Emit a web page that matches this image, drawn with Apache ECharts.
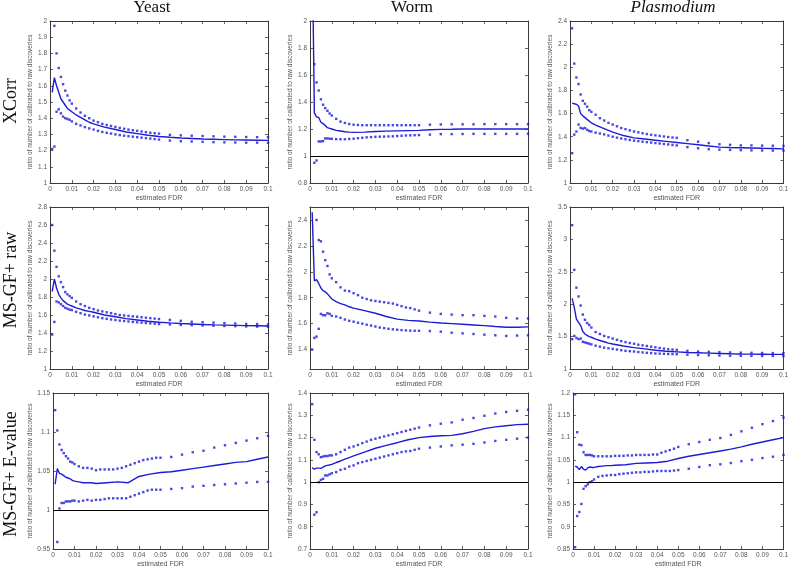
<!DOCTYPE html>
<html><head><meta charset="utf-8">
<script src="https://cdn.jsdelivr.net/npm/echarts@6/dist/echarts.min.js"></script>
<style>html,body{margin:0;padding:0;background:#fff}#c{width:791px;height:569px}</style>
</head><body><div id="c"></div>
<script>
// ---------- data ----------
const COL_TITLES = ['Yeast', 'Worm', 'Plasmodium'];
const ROW_TITLES = ['XCorr', 'MS-GF+ raw', 'MS-GF+ E-value'];
const X_NAME = 'estimated FDR';
const Y_NAME = 'ratio of number of calibrated to raw discoveries';

const X_TICKS = [0,0.01,0.02,0.03,0.04,0.05,0.06,0.07,0.08,0.09,0.1];
const X_LABELS = ['0','0.01','0.02','0.03','0.04','0.05','0.06','0.07','0.08','0.09','0.1'];

const DOT_X = [0.001,0.002,0.003,0.004,0.005,0.006,0.007,0.008,0.009,0.010,
  0.012,0.014,0.016,0.018,0.020,0.022,0.024,0.026,0.028,0.030,0.032,0.034,0.036,0.038,0.040,0.042,0.044,0.046,0.048,0.050,
  0.055,0.060,0.065,0.070,0.075,0.080,0.085,0.090,0.095,0.100];
const LINE_X = [0.001,0.002,0.003,0.004,0.005,0.006,0.007,0.008,0.009,0.010,
  0.012,0.014,0.016,0.018,0.020,
  0.025,0.030,0.035,0.040,0.045,0.050,0.055,0.060,0.065,0.070,0.075,0.080,0.085,0.090,0.095,0.100];

// Yeast / XCorr
const YX_Y_TICKS = [1,1.1,1.2,1.3,1.4,1.5,1.6,1.7,1.8,1.9,2];
const YX_MID = [1.56,1.65,1.60,1.56,1.52,1.50,1.48,1.46,1.45,1.44, 1.42,1.405,1.39,1.375,1.365, 1.345,1.33,1.315,1.305,1.295,1.287,1.282,1.278,1.275,1.272,1.27,1.268,1.266,1.265,1.264,1.263];
const YX_UP = [null,1.97,1.80,1.71,1.655,1.61,1.57,1.54,1.51,1.49, 1.46,1.435,1.415,1.40,1.385,1.375,1.365,1.358,1.352,1.346,1.34,1.335,1.33,1.326,1.322,1.318,1.314,1.31,1.307,1.305, 1.297,1.294,1.292,1.29,1.288,1.286,1.285,1.284,1.283,1.283];
const YX_LO = [1.21,1.225,1.44,1.455,1.43,1.41,1.40,1.395,1.39,1.38, 1.365,1.355,1.345,1.337,1.33,1.322,1.315,1.31,1.305,1.30,1.296,1.292,1.289,1.286,1.283,1.28,1.277,1.274,1.271,1.268, 1.262,1.258,1.256,1.254,1.252,1.251,1.25,1.249,1.249,1.248];

// Worm / XCorr
const WX_Y_TICKS = [0.8,1,1.2,1.4,1.6,1.8,2];
const WX_MID = [2.6,1.32,1.29,1.285,1.25,1.24,1.225,1.21,1.205,1.20, 1.19,1.185,1.18,1.177,1.175, 1.177,1.182,1.184,1.186,1.188,1.19,1.194,1.197,1.198,1.2,1.2,1.2,1.2,1.2,1.2,1.2];
const WX_UP = [null,1.68,1.545,1.485,1.42,1.38,1.355,1.335,1.315,1.30, 1.275,1.255,1.245,1.237,1.232,1.23,1.228,1.228,1.228,1.228,1.228,1.228,1.228,1.228,1.228,1.228,1.228,1.228,1.228,1.228, 1.232,1.234,1.235,1.235,1.235,1.236,1.236,1.236,1.236,1.236];
const WX_LO = [null,0.95,0.967,1.108,1.108,1.11,1.13,1.13,1.128,1.127, 1.125,1.124,1.124,1.126,1.128,1.132,1.135,1.138,1.14,1.142,1.143,1.144,1.145,1.146,1.148,1.15,1.152,1.153,1.154,1.155, 1.158,1.162,1.162,1.163,1.164,1.164,1.164,1.164,1.164,1.165];

// Plasmodium / XCorr
const PX_Y_TICKS = [1,1.2,1.4,1.6,1.8,2,2.2,2.4];
const PX_MID = [1.69,1.685,1.68,1.665,1.60,1.58,1.565,1.55,1.535,1.52, 1.50,1.485,1.47,1.455,1.44, 1.41,1.39,1.38,1.37,1.36,1.35,1.34,1.33,1.32,1.31,1.307,1.305,1.303,1.30,1.298,1.295];
const PX_UP = [2.337,2.032,1.912,1.855,1.765,1.71,1.685,1.66,1.63,1.615, 1.59,1.56,1.54,1.52,1.505,1.49,1.475,1.465,1.455,1.445,1.438,1.43,1.423,1.417,1.412,1.407,1.402,1.397,1.393,1.39, 1.37,1.357,1.345,1.335,1.33,1.325,1.325,1.323,1.322,1.32];
const PX_LO = [1.258,1.418,1.445,1.505,1.476,1.47,1.475,1.46,1.45,1.445, 1.435,1.428,1.42,1.41,1.40,1.392,1.385,1.378,1.372,1.366,1.362,1.357,1.353,1.349,1.345,1.341,1.337,1.333,1.329,1.325, 1.31,1.30,1.292,1.288,1.286,1.284,1.282,1.281,1.28,1.28];

// Yeast / MS-GF+ raw
const YR_Y_TICKS = [1,1.2,1.4,1.6,1.8,2,2.2,2.4,2.6,2.8];
const YR_MID = [1.86,2.00,1.90,1.83,1.79,1.76,1.74,1.72,1.71,1.70, 1.68,1.665,1.65,1.64,1.63, 1.60,1.58,1.56,1.545,1.53,1.52,1.512,1.505,1.50,1.495,1.49,1.488,1.485,1.482,1.48,1.478];
const YR_UP = [2.60,2.315,2.135,2.03,1.965,1.91,1.855,1.83,1.81,1.79, 1.75,1.72,1.70,1.68,1.665,1.65,1.64,1.63,1.62,1.61,1.60,1.595,1.59,1.585,1.58,1.575,1.57,1.565,1.56,1.555, 1.545,1.535,1.525,1.52,1.515,1.51,1.505,1.50,1.50,1.495];
const YR_LO = [1.383,1.523,1.75,1.74,1.72,1.70,1.68,1.67,1.66,1.655, 1.635,1.62,1.605,1.595,1.585,1.575,1.565,1.557,1.55,1.544,1.538,1.533,1.528,1.523,1.519,1.515,1.511,1.507,1.503,1.50, 1.495,1.49,1.487,1.484,1.481,1.478,1.476,1.473,1.471,1.468];

// Worm / MS-GF+ raw
const WR_Y_TICKS = [1.4,1.6,1.8,2,2.2,2.4];
const WR_MID = [2.46,1.93,1.94,1.91,1.875,1.855,1.845,1.83,1.81,1.79, 1.77,1.755,1.745,1.73,1.72, 1.70,1.68,1.655,1.635,1.625,1.62,1.612,1.605,1.60,1.595,1.59,1.585,1.578,1.572,1.572,1.575];
const WR_UP = [null,null,2.40,2.245,2.235,2.155,2.09,2.045,1.98,1.95, 1.92,1.88,1.855,1.85,1.835,1.82,1.80,1.79,1.78,1.775,1.77,1.765,1.76,1.755,1.745,1.735,1.725,1.72,1.71,1.70, 1.685,1.675,1.67,1.665,1.665,1.66,1.655,1.645,1.64,1.64];
const WR_LO = [1.40,1.49,1.50,1.56,1.675,1.665,1.665,1.68,1.675,1.66, 1.655,1.645,1.632,1.622,1.615,1.607,1.60,1.592,1.585,1.578,1.57,1.565,1.56,1.556,1.553,1.55,1.548,1.546,1.545,1.545, 1.543,1.538,1.53,1.525,1.52,1.515,1.51,1.505,1.508,1.51];

// Plasmodium / MS-GF+ raw
const PR_Y_TICKS = [1,1.5,2,2.5,3,3.5];
const PR_MID = [2.09,1.95,1.77,1.72,1.67,1.58,1.54,1.52,1.50,1.49, 1.46,1.44,1.42,1.40,1.385, 1.355,1.33,1.31,1.29,1.275,1.265,1.255,1.25,1.245,1.24,1.235,1.232,1.23,1.228,1.226,1.225];
const PR_UP = [3.22,2.53,2.255,2.12,1.98,1.84,1.76,1.71,1.68,1.64, 1.57,1.54,1.51,1.49,1.47,1.45,1.43,1.415,1.40,1.39,1.375,1.365,1.355,1.345,1.335,1.325,1.315,1.305,1.30,1.295, 1.28,1.27,1.265,1.26,1.255,1.252,1.25,1.248,1.246,1.245];
const PR_LO = [1.46,1.51,1.48,1.46,1.47,1.42,1.41,1.40,1.39,1.38, 1.36,1.345,1.33,1.32,1.31,1.30,1.29,1.28,1.275,1.27,1.262,1.256,1.25,1.245,1.24,1.237,1.234,1.232,1.23,1.228, 1.22,1.215,1.212,1.208,1.205,1.203,1.202,1.201,1.20,1.20];

// Yeast / MS-GF+ E-value
const YE_Y_TICKS = [0.95,1,1.05,1.1,1.15];
const YE_MID = [1.033,1.053,1.047,1.046,1.044,1.042,1.041,1.040,1.038,1.037, 1.036,1.035,1.035,1.035,1.034, 1.035,1.036,1.035,1.043,1.046,1.048,1.049,1.051,1.053,1.055,1.057,1.059,1.061,1.062,1.065,1.068];
const YE_UP = [1.128,1.102,1.084,1.077,1.073,1.069,1.066,1.062,1.061,1.059, 1.056,1.054,1.054,1.053,1.051,1.052,1.052,1.052,1.052,1.053,1.054,1.056,1.058,1.06,1.062,1.064,1.065,1.066,1.067,1.067, 1.068,1.071,1.074,1.076,1.080,1.083,1.086,1.089,1.092,1.095];
const YE_LO = [null,0.959,1.002,1.009,1.009,1.011,1.011,1.011,1.012,1.012, 1.011,1.012,1.013,1.012,1.013,1.013,1.014,1.015,1.015,1.015,1.015,1.015,1.017,1.019,1.021,1.023,1.025,1.026,1.026,1.026, 1.027,1.028,1.030,1.031,1.032,1.033,1.034,1.035,1.036,1.036];

// Worm / MS-GF+ E-value
const WE_Y_TICKS = [0.7,0.8,0.9,1,1.1,1.2,1.3,1.4];
const WE_MID = [1.065,1.058,1.063,1.063,1.062,1.067,1.073,1.075,1.077,1.08, 1.088,1.095,1.103,1.11,1.118, 1.135,1.152,1.165,1.177,1.19,1.20,1.205,1.208,1.21,1.217,1.228,1.24,1.248,1.253,1.258,1.26];
const WE_UP = [1.35,1.19,1.135,1.125,1.112,1.115,1.117,1.117,1.12,1.12, 1.125,1.135,1.145,1.155,1.16,1.167,1.175,1.182,1.19,1.195,1.20,1.205,1.21,1.215,1.22,1.225,1.23,1.235,1.24,1.245, 1.255,1.262,1.268,1.28,1.288,1.298,1.308,1.315,1.32,1.325];
const WE_LO = [null,0.854,0.865,1.00,1.01,1.015,1.03,1.03,1.035,1.04, 1.045,1.055,1.06,1.07,1.075,1.085,1.09,1.095,1.10,1.105,1.11,1.115,1.12,1.125,1.13,1.135,1.138,1.14,1.145,1.15, 1.155,1.16,1.165,1.168,1.172,1.178,1.185,1.19,1.195,1.20];

// Plasmodium / MS-GF+ E-value
const PE_Y_TICKS = [0.85,0.9,0.95,1,1.05,1.1,1.15,1.2];
const PE_MID = [1.036,1.034,1.028,1.035,1.029,1.027,1.032,1.034,1.033,1.033, 1.035,1.036,1.037,1.037,1.038, 1.039,1.042,1.043,1.044,1.047,1.053,1.058,1.062,1.066,1.07,1.074,1.079,1.085,1.09,1.095,1.10];
const PE_UP = [1.197,1.112,1.084,1.083,1.067,1.061,1.061,1.061,1.060,1.058, 1.058,1.058,1.058,1.058,1.059,1.059,1.059,1.060,1.060,1.061,1.061,1.061,1.061,1.062,1.062,1.066,1.069,1.072,1.075,1.079, 1.085,1.09,1.095,1.099,1.106,1.114,1.122,1.13,1.137,1.145];
const PE_LO = [0.854,0.924,0.933,0.951,0.985,0.991,0.995,1.0,1.002,1.006, 1.012,1.014,1.015,1.016,1.016,1.018,1.019,1.020,1.021,1.022,1.022,1.023,1.023,1.024,1.025,1.025,1.025,1.025,1.026,1.027, 1.030,1.034,1.038,1.040,1.043,1.047,1.050,1.054,1.057,1.061];

// ---------- layout / styling ----------
const PANELS = [
  {mid:YX_MID, up:YX_UP, lo:YX_LO, ymin:1,    ymax:2,    ticks:YX_Y_TICKS},
  {mid:WX_MID, up:WX_UP, lo:WX_LO, ymin:0.8,  ymax:2,    ticks:WX_Y_TICKS},
  {mid:PX_MID, up:PX_UP, lo:PX_LO, ymin:1,    ymax:2.4,  ticks:PX_Y_TICKS},
  {mid:YR_MID, up:YR_UP, lo:YR_LO, ymin:1,    ymax:2.8,  ticks:YR_Y_TICKS},
  {mid:WR_MID, up:WR_UP, lo:WR_LO, ymin:1.25, ymax:2.5,  ticks:WR_Y_TICKS},
  {mid:PR_MID, up:PR_UP, lo:PR_LO, ymin:1,    ymax:3.5,  ticks:PR_Y_TICKS},
  {mid:YE_MID, up:YE_UP, lo:YE_LO, ymin:0.95, ymax:1.15, ticks:YE_Y_TICKS},
  {mid:WE_MID, up:WE_UP, lo:WE_LO, ymin:0.7,  ymax:1.4,  ticks:WE_Y_TICKS},
  {mid:PE_MID, up:PE_UP, lo:PE_LO, ymin:0.85, ymax:1.2,  ticks:PE_Y_TICKS}
];
const GRID_BOX = [
  [50,21,218,162],[310,21,218,162],[570,21,218,162],
  [50,207,218,162],[310,207,218,162],[570,207,218,162],
  [53,393,215,162],[310,393,218,162],[573,393,215,162]
];
const BLUE = '#1c1cd8';
const AXIS_C = '#3a3a3a';
const LABEL_C = '#555';
const SANS = 'Liberation Sans';
const SERIF = 'Liberation Serif';

const grids = [], xAxes = [], yAxes = [], series = [];
PANELS.forEach((p, i) => {
  const [l, t, w, h] = GRID_BOX[i];
  grids.push({left:l, top:t, width:w, height:h, containLabel:false});
  const tickBase = {show:true, inside:true, length:3, lineStyle:{color:AXIS_C, width:0.8}};
  xAxes.push({
    type:'value', gridIndex:i, position:'bottom', min:0, max:0.1,
    axisLine:{show:true, onZero:false, lineStyle:{color:AXIS_C, width:1}},
    axisTick:Object.assign({customValues:X_TICKS}, tickBase),
    axisLabel:{customValues:X_TICKS, formatter:v => X_LABELS[X_TICKS.findIndex(a => Math.abs(a - v) < 1e-9)] ?? String(v),
      fontSize:6.5, color:LABEL_C, margin:3, fontFamily:SANS},
    splitLine:{show:false},
    name:X_NAME, nameLocation:'middle', nameGap:12,
    nameTextStyle:{fontSize:7, color:LABEL_C, fontFamily:SANS}
  });
  xAxes.push({
    type:'value', gridIndex:i, position:'top', min:0, max:0.1,
    axisLine:{show:true, onZero:false, lineStyle:{color:AXIS_C, width:1}},
    axisTick:Object.assign({customValues:X_TICKS}, tickBase),
    axisLabel:{show:false}, splitLine:{show:false}
  });
  yAxes.push({
    type:'value', gridIndex:i, position:'left', min:p.ymin, max:p.ymax,
    axisLine:{show:true, onZero:false, lineStyle:{color:AXIS_C, width:1}},
    axisTick:Object.assign({customValues:p.ticks}, tickBase),
    axisLabel:{customValues:p.ticks, formatter:v => String(+v.toFixed(3)),
      fontSize:6.5, color:LABEL_C, margin:3, fontFamily:SANS},
    splitLine:{show:false},
    name:Y_NAME, nameLocation:'middle', nameGap:14,
    nameTextStyle:{fontSize:6.5, color:LABEL_C, fontFamily:SANS}
  });
  yAxes.push({
    type:'value', gridIndex:i, position:'right', min:p.ymin, max:p.ymax,
    axisLine:{show:true, onZero:false, lineStyle:{color:AXIS_C, width:1}},
    axisTick:Object.assign({customValues:p.ticks}, tickBase),
    axisLabel:{show:false}, splitLine:{show:false}
  });
  const xi = 2 * i, yi = 2 * i;
  const lineSeries = {
    type:'line', xAxisIndex:xi, yAxisIndex:yi, clip:true, silent:true,
    data:LINE_X.map((x, k) => [x, p.mid[k]]),
    showSymbol:false, symbol:'none', smooth:false,
    lineStyle:{color:BLUE, width:1.4}, z:3
  };
  if (p.ymin < 1 && p.ymax > 1) {
    lineSeries.markLine = {silent:true, symbol:['none','none'], label:{show:false},
      lineStyle:{color:'#000', width:1, type:'solid'}, data:[{yAxis:1}]};
  }
  series.push(lineSeries);
  [p.up, p.lo].forEach(arr => {
    series.push({
      type:'scatter', xAxisIndex:xi, yAxisIndex:yi, clip:true, silent:true,
      data:DOT_X.map((x, k) => [x, arr[k]]).filter(d => d[1] !== null),
      symbol:'rect', symbolSize:2.4, itemStyle:{color:BLUE}, z:4
    });
  });
});

const graphics = [];
const colCenters = [152, 412, 673];
COL_TITLES.forEach((t, j) => {
  graphics.push({type:'text', x:colCenters[j], y:8,
    style:{text:t, fill:'#111', font:(j === 2 ? 'italic ' : '') + '17px ' + SERIF, textAlign:'center', textVerticalAlign:'middle'}});
});
const rowCenters = [101, 280, 474];
ROW_TITLES.forEach((t, j) => {
  graphics.push({type:'text', x:11, y:rowCenters[j], rotation:Math.PI / 2,
    style:{text:t, fill:'#111', font:'18px ' + SERIF, textAlign:'center', textVerticalAlign:'middle'}});
});

const chart = echarts.init(document.getElementById('c'), null, {renderer:'canvas'});
chart.setOption({
  animation:false,
  backgroundColor:'#fff',
  grid:grids, xAxis:xAxes, yAxis:yAxes, series:series,
  graphic:graphics
});
</script>
</body></html>
